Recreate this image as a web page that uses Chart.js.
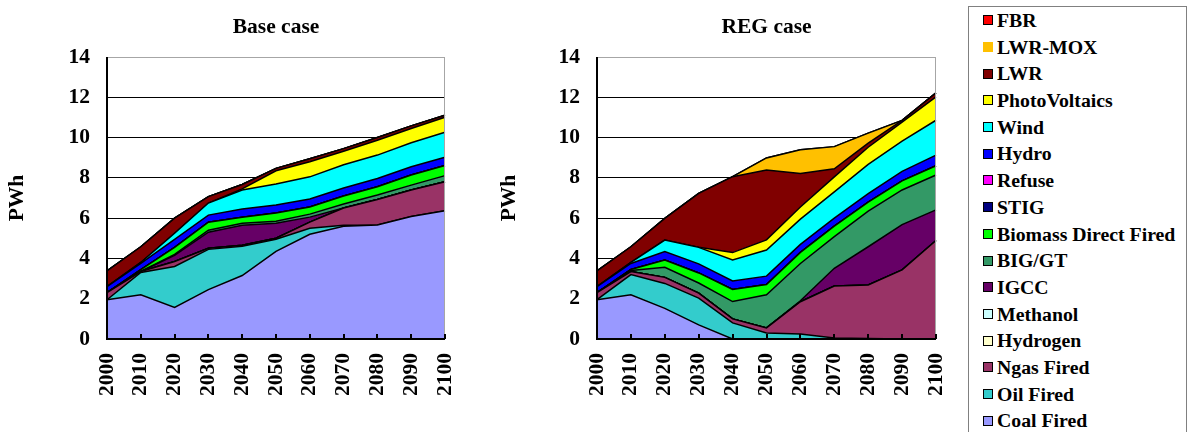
<!DOCTYPE HTML>
<html>
<head>
  <script src="https://cdn.jsdelivr.net/npm/chart.js"></script>
  <style>
    body { margin: 0; background: #fff; width: 1189px; height: 432px; overflow: hidden; position: relative; }
    canvas { position: absolute; top: 0; }
    #legend {
      position: absolute; left: 968px; top: 6px; width: 219px; height: 440px;
      border: 1px solid #808080; box-sizing: border-box;
      font-family: "Liberation Serif", "Times New Roman", serif; font-weight: bold; font-size: 19.8px; color: #000;
    }
    #legend .item { height: 26.7px; line-height: 26.7px; white-space: nowrap; display: flex; align-items: center; padding-left: 14px; }
    #legend .box { width: 10px; height: 10px; box-sizing: border-box; border: 1px solid #000; margin-right: 4px; flex: none; }
  </style>
</head>
<body>
  <canvas id="baseChart" width="460" height="432" style="left:0px"></canvas>
  <canvas id="regChart" width="470" height="432" style="left:480px"></canvas>
  <div id="legend"></div>

  <script>
    // years on the x axis
    var years = ['2000', '2010', '2020', '2030', '2040', '2050', '2060', '2070', '2080', '2090', '2100'];

    // series, bottom of the stack first
    var seriesNames = ['Coal Fired', 'Oil Fired', 'Ngas Fired', 'Hydrogen', 'Methanol', 'IGCC', 'BIG/GT',
      'Biomass Direct Fired', 'STIG', 'Refuse', 'Hydro', 'Wind', 'PhotoVoltaics', 'LWR', 'LWR-MOX', 'FBR'];
    var seriesColors = ['#9999FF', '#33CCCC', '#993366', '#FFFFCC', '#CCFFFF', '#660066', '#339966',
      '#00FF00', '#000080', '#FF00FF', '#0000FF', '#00FFFF', '#FFFF00', '#800000', '#FFC000', '#FF0000'];

    // Base case (PWh)
    var coalBase     = [1.95, 2.2, 1.57, 2.45, 3.15, 4.35, 5.2, 5.6, 5.66, 6.08, 6.37];
    var oilBase      = [0, 1.1, 2.03, 2.0, 1.45, 0.6, 0.3, 0.05, 0, 0, 0];
    var ngasBase     = [0.35, 0.05, 0.25, 0.05, 0.05, 0.05, 0.3, 0.85, 1.27, 1.32, 1.44];
    var hydrogenBase = [0, 0, 0, 0, 0, 0, 0, 0, 0, 0, 0];
    var methanolBase = [0, 0, 0, 0, 0, 0, 0, 0, 0, 0, 0];
    var igccBase     = [0, 0, 0.3, 0.8, 1.0, 0.75, 0.25, 0, 0, 0, 0];
    var bigBase      = [0, 0, 0.05, 0.1, 0.1, 0.1, 0.15, 0.2, 0.22, 0.24, 0.3];
    var biomassBase  = [0, 0.1, 0.35, 0.4, 0.3, 0.4, 0.35, 0.4, 0.41, 0.5, 0.5];
    var stigBase     = [0, 0, 0, 0, 0, 0, 0, 0, 0, 0, 0];
    var refuseBase   = [0, 0, 0, 0, 0, 0, 0, 0, 0, 0, 0];
    var hydroBase    = [0.3, 0.3, 0.4, 0.35, 0.4, 0.4, 0.4, 0.4, 0.41, 0.41, 0.41];
    var windBase     = [0, 0.05, 0.3, 0.6, 0.95, 1.05, 1.1, 1.15, 1.16, 1.19, 1.24];
    var pvBase       = [0, 0, 0, 0, 0.05, 0.65, 0.75, 0.67, 0.74, 0.71, 0.75];
    var lwrBase      = [0.78, 0.78, 0.75, 0.32, 0.22, 0.12, 0.15, 0.13, 0.13, 0.13, 0.1];
    var moxBase      = [0, 0, 0, 0, 0, 0, 0, 0, 0, 0, 0];
    var fbrBase      = [0, 0, 0, 0, 0, 0, 0, 0, 0, 0, 0];

    // REG case (PWh)
    var coalReg     = [1.95, 2.2, 1.52, 0.7, 0, 0, 0, 0, 0, 0, 0];
    var oilReg      = [0, 1.0, 1.24, 1.33, 0.8, 0.3, 0.25, 0.05, 0.02, 0, 0];
    var ngasReg     = [0.35, 0.15, 0.3, 0.25, 0.2, 0.25, 1.6, 2.58, 2.66, 3.43, 4.89];
    var hydrogenReg = [0, 0, 0, 0, 0, 0, 0, 0, 0, 0, 0];
    var methanolReg = [0, 0, 0, 0, 0, 0, 0, 0, 0, 0, 0];
    var igccReg     = [0, 0, 0, 0, 0, 0, 0.05, 0.88, 1.9, 2.25, 1.52];
    var bigReg      = [0, 0.05, 0.5, 0.5, 0.86, 1.65, 1.85, 1.57, 1.77, 1.72, 1.73];
    var biomassReg  = [0, 0.05, 0.36, 0.5, 0.6, 0.5, 0.55, 0.52, 0.45, 0.45, 0.46];
    var stigReg     = [0, 0, 0, 0, 0, 0, 0, 0, 0, 0, 0];
    var refuseReg   = [0, 0, 0, 0, 0, 0, 0, 0, 0, 0, 0];
    var hydroReg    = [0.3, 0.3, 0.42, 0.45, 0.42, 0.42, 0.4, 0.4, 0.42, 0.47, 0.53];
    var windReg     = [0, 0.05, 0.57, 0.82, 1.04, 1.3, 1.25, 1.3, 1.45, 1.5, 1.73];
    var pvReg       = [0, 0, 0, 0, 0.37, 0.5, 0.6, 0.75, 0.85, 0.95, 1.16];
    var lwrReg      = [0.78, 0.78, 1.08, 2.68, 3.77, 3.47, 1.67, 0.4, 0.2, 0.08, 0.2];
    var moxReg      = [0, 0, 0, 0, 0, 0.6, 1.18, 1.1, 0.5, 0, 0];
    var fbrReg      = [0, 0, 0, 0, 0, 0, 0, 0, 0, 0, 0];

    var baseData = [coalBase, oilBase, ngasBase, hydrogenBase, methanolBase, igccBase, bigBase, biomassBase,
      stigBase, refuseBase, hydroBase, windBase, pvBase, lwrBase, moxBase, fbrBase];
    var regData = [coalReg, oilReg, ngasReg, hydrogenReg, methanolReg, igccReg, bigReg, biomassReg,
      stigReg, refuseReg, hydroReg, windReg, pvReg, lwrReg, moxReg, fbrReg];

    var serif = '"Liberation Serif", "Times New Roman", serif';
    var bold21 = { family: serif, size: 21.5, weight: 'bold' };

    // gray top/right frame, black axes and inward x ticks
    var framePlugin = {
      id: 'frame',
      afterDatasetsDraw: function (chart) {
        var ctx = chart.ctx, a = chart.chartArea, x = chart.scales.x;
        ctx.save();
        ctx.lineWidth = 1;
        ctx.strokeStyle = '#a6a6a6';
        ctx.beginPath();
        ctx.moveTo(a.left, a.top + 0.5);
        ctx.lineTo(a.right - 0.5, a.top + 0.5);
        ctx.lineTo(a.right - 0.5, a.bottom);
        ctx.stroke();
        ctx.strokeStyle = '#000';
        ctx.lineWidth = 2;
        ctx.beginPath();
        ctx.moveTo(a.left, a.top);
        ctx.lineTo(a.left, a.bottom);
        ctx.lineTo(a.right, a.bottom);
        for (var i = 0; i < x.ticks.length; i++) {
          var px = Math.round(x.getPixelForTick(i));
          ctx.moveTo(px, a.bottom);
          ctx.lineTo(px, a.bottom - 5);
        }
        ctx.stroke();
        ctx.restore();
      }
    };

    function noSidePadding(s) { s.paddingLeft = 0; s.paddingRight = 0; }

    function makeChart(id, title, data, axisWidth, padRight, titlePad) {
      var datasets = data.map(function (values, i) {
        return {
          label: seriesNames[i],
          data: values,
          backgroundColor: seriesColors[i],
          borderColor: '#000',
          borderWidth: 1.5,
          fill: i === 0 ? 'origin' : '-1',
          pointRadius: 0,
          tension: 0
        };
      });
      return new Chart(document.getElementById(id), {
        type: 'line',
        data: { labels: years, datasets: datasets },
        plugins: [framePlugin],
        options: {
          responsive: false,
          animation: false,
          layout: { padding: { left: 0, right: padRight, top: 0, bottom: 0 } },
          plugins: { legend: { display: false }, tooltip: { enabled: false } },
          scales: {
            x: {
              type: 'category',
              grid: { display: false, drawTicks: false },
              border: { display: false },
              ticks: { font: bold21, color: '#000', minRotation: 90, maxRotation: 90, autoSkip: false, padding: 14 },
              afterFit: function (s) { s.height = 93; noSidePadding(s); }
            },
            head: {
              type: 'category',
              position: 'top',
              grid: { display: false, drawTicks: false },
              border: { display: false },
              ticks: { display: false },
              title: { display: true, text: title, font: bold21, color: '#000', padding: { top: 15, bottom: 0 } },
              afterFit: function (s) { s.height = 57; noSidePadding(s); }
            },
            y: {
              stacked: true,
              min: 0,
              max: 14,
              ticks: { stepSize: 2, font: bold21, color: '#000', padding: 17 },
              grid: {
                drawTicks: false,
                lineWidth: 1,
                color: function (c) { return c.tick && c.tick.value === 14 ? '#a6a6a6' : '#000'; }
              },
              border: { display: false },
              title: { display: true, text: 'PWh', font: bold21, color: '#000', padding: { top: titlePad, bottom: 0 } },
              afterFit: function (s) { s.width = axisWidth; }
            }
          }
        }
      });
    }

    makeChart('baseChart', 'Base case', baseData, 107, 15, 5);
    makeChart('regChart', 'REG case', regData, 117, 14, 17);

    // legend box, top entry is the top of the stack
    var legend = document.getElementById('legend');
    for (var i = seriesNames.length - 1; i >= 0; i--) {
      var item = document.createElement('div');
      item.className = 'item';
      var box = document.createElement('span');
      box.className = 'box';
      box.style.background = seriesColors[i];
      if (seriesNames[i] === 'LWR-MOX') box.style.borderColor = seriesColors[i];
      item.appendChild(box);
      item.appendChild(document.createTextNode(seriesNames[i]));
      legend.appendChild(item);
    }
  </script>
</body>
</html>
